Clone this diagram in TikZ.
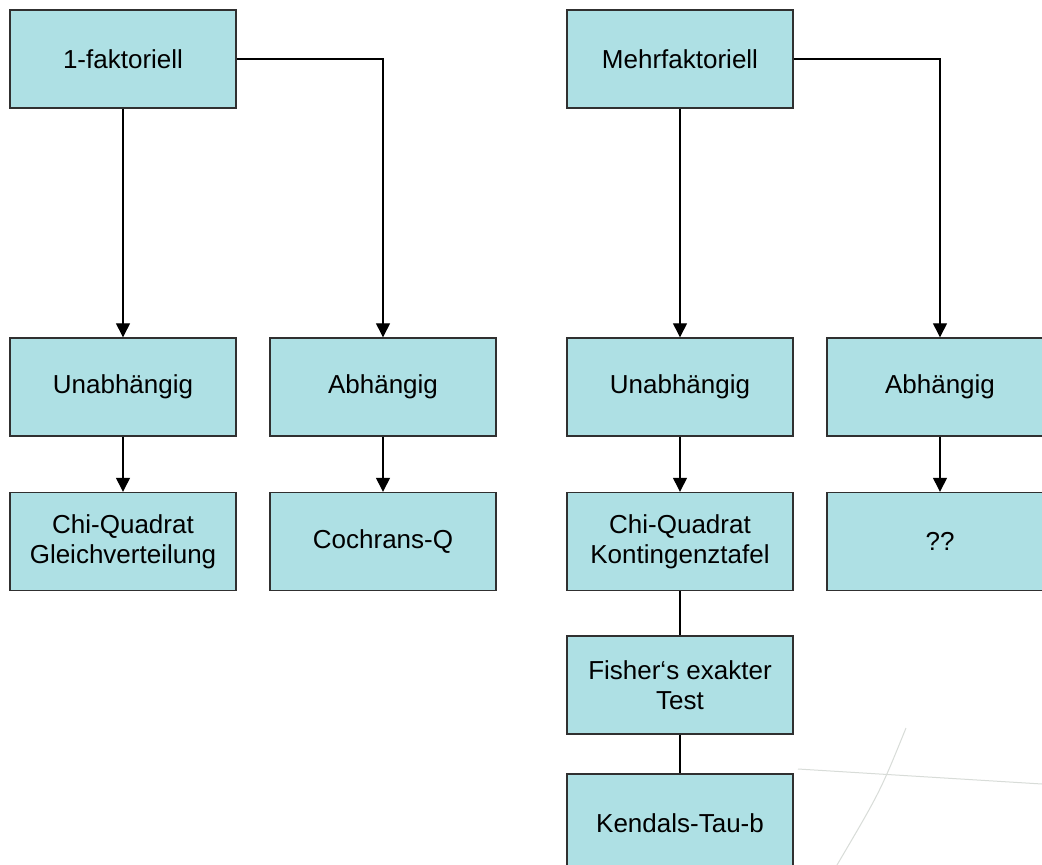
\documentclass[tikz,border=0pt]{standalone}
\usepackage{fontspec}
\setmainfont{Liberation Sans}
\usetikzlibrary{arrows.meta}
\definecolor{boxfill}{HTML}{AEE0E4}
\definecolor{boxline}{HTML}{303030}
\definecolor{faint}{HTML}{D8DCD8}
\tikzset{
  box/.style={draw=boxline, line width=1.4pt, fill=boxfill, minimum width=226pt, minimum height=98pt, inner sep=0pt, align=center, font=\fontsize{26}{30}\selectfont, text=black},
  conn/.style={draw=black, line width=1.3pt},
  arr/.style={conn, -{Triangle[width=14pt,length=14pt]}}
}
\begin{document}
\begin{tikzpicture}[x=1pt,y=-1pt]
\useasboundingbox (0,0) rectangle (1042,865);
\clip (0,0) rectangle (1042,865);
\fill[white] (0,0) rectangle (1042,865);
% faint decorative lines
\draw[faint, line width=1pt] (798,769) -- (1042,784);
\draw[faint, line width=1pt] (906,728) .. controls (880,792) .. (837,865);
% boxes
\node[box] (f1) at (123,59) {1-faktoriell};
\node[box] (u1) at (123,387) {Unabhängig};
\node[box] (c1) at (123,541.5) {Chi-Quadrat\\Gleichverteilung};
\node[box] (a1) at (383,387) {Abhängig};
\node[box] (q1) at (383,541.5) {Cochrans-Q};
\node[box] (m) at (680,59) {Mehrfaktoriell};
\node[box] (u2) at (680,387) {Unabhängig};
\node[box] (c2) at (680,541.5) {Chi-Quadrat\\Kontingenztafel};
\node[box] (fi) at (680,685) {Fisher‘s exakter\\Test};
\node[box] (k) at (680,823) {Kendals-Tau-b};
\node[box] (a2) at (940,387) {Abhängig};
\node[box] (qq) at (940,541.5) {??};
% connectors
\draw[arr] (f1.south) -- (u1.north);
\draw[arr] (f1.east) -| (a1.north);
\draw[arr] (u1.south) -- (c1.north);
\draw[arr] (a1.south) -- (q1.north);
\draw[arr] (m.south) -- (u2.north);
\draw[arr] (m.east) -| (a2.north);
\draw[arr] (u2.south) -- (c2.north);
\draw[arr] (a2.south) -- (qq.north);
\draw[conn] (c2.south) -- (fi.north);
\draw[conn] (fi.south) -- (k.north);
\end{tikzpicture}
\end{document}
